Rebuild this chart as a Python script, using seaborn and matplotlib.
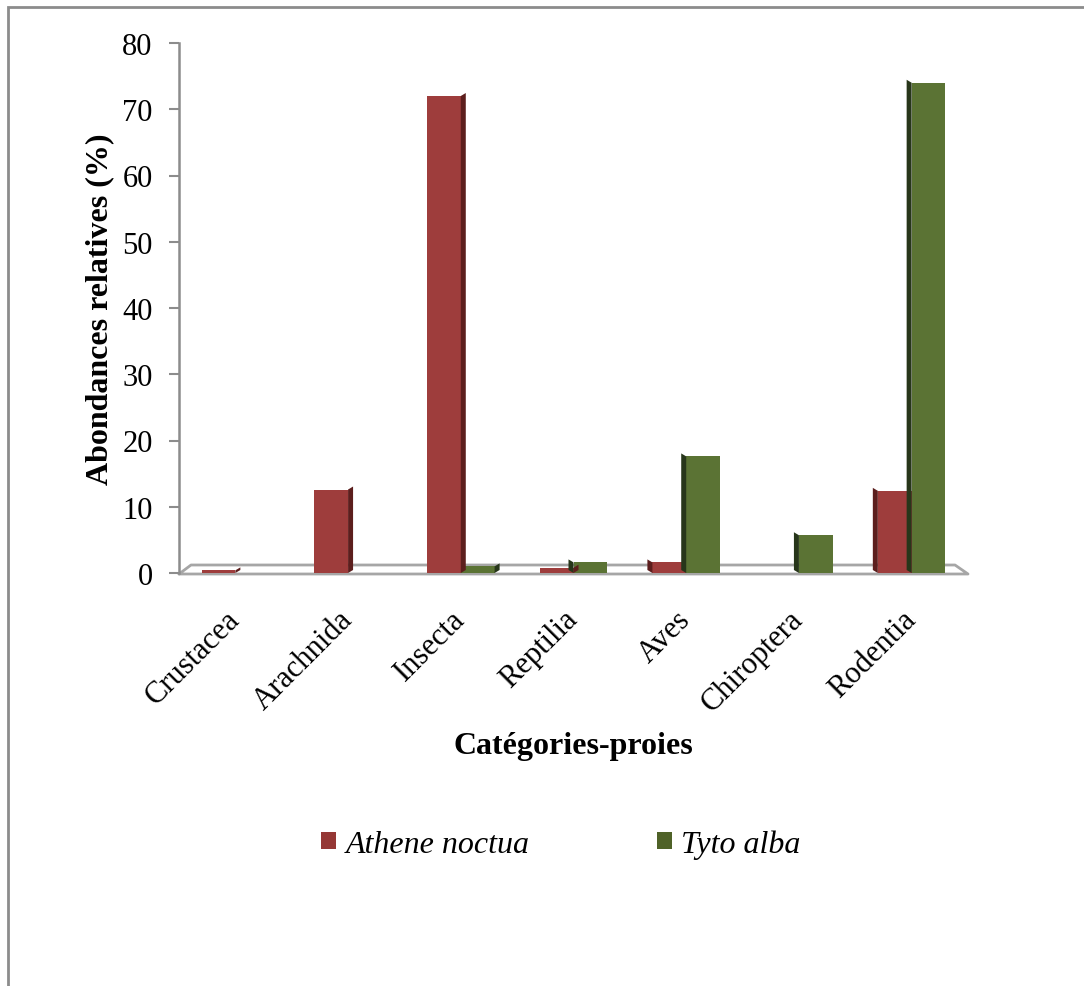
import numpy as np
import pandas as pd
import matplotlib
matplotlib.use("Agg")
import matplotlib.pyplot as plt
from matplotlib.patches import Patch, Rectangle, Polygon
from matplotlib.lines import Line2D
import seaborn as sns

# Relative abundance (%) of prey categories in the diet of two owls
categories = ["Crustacea", "Arachnida", "Insecta", "Reptilia", "Aves", "Chiroptera", "Rodentia"]
athene_noctua = [0.4, 12.6, 72.0, 0.8, 1.6, 0.0, 12.4]
tyto_alba = [0.0, 0.0, 1.0, 1.6, 17.6, 5.7, 74.0]
species = ["Athene noctua", "Tyto alba"]
y_ticks = [0, 10, 20, 30, 40, 50, 60, 70, 80]

front_colors = {"Athene noctua": "#9E3D3C", "Tyto alba": "#5B7334"}
side_colors = {"Athene noctua": "#5C1E1D", "Tyto alba": "#27361A"}
legend_colors = {"Athene noctua": "#953735", "Tyto alba": "#4F6228"}

df = pd.DataFrame({
    "Catégorie": categories * 2,
    "Espèce": [species[0]] * len(categories) + [species[1]] * len(categories),
    "Abondance": athene_noctua + tyto_alba,
})

sns.set_style("white")
plt.rcParams["font.family"] = ["Liberation Serif", "DejaVu Serif"]
plt.rcParams["text.color"] = "black"
plt.rcParams["axes.labelcolor"] = "black"
plt.rcParams["xtick.labelcolor"] = "black"
plt.rcParams["ytick.labelcolor"] = "black"

fig = plt.figure(figsize=(10.84, 9.87), dpi=100)
ax = fig.add_axes([179 / 1084, 1 - 574 / 987, (968 - 179) / 1084, (574 - 44) / 987])

sns.barplot(data=df, x="Catégorie", y="Abondance", hue="Espèce",
            hue_order=species, palette=front_colors, saturation=1,
            width=0.6, gap=0, legend=False, ax=ax, linewidth=0, errorbar=None)

ax.set_xlim(-0.5, len(categories) - 0.5)
ax.set_ylim(0, 80)
ax.set_yticks(y_ticks)
ax.set_yticklabels([str(v) for v in y_ticks], fontsize=22)

# Tick marks sit between categories; labels sit at category centres
ax.set_xticks(np.arange(len(categories) + 1) - 0.5)
ax.set_xticklabels([])
ax.set_xticks(np.arange(len(categories)), minor=True)
ax.set_xticklabels(categories, minor=True, fontsize=22, rotation=45,
                   ha="right", va="center", rotation_mode="anchor")
ax.tick_params(axis="x", which="minor", length=0, pad=30)
ax.tick_params(axis="x", which="major", length=9, width=1.5, color="#8C8C8C", direction="out")
ax.tick_params(axis="y", length=7, width=1.5, color="#8C8C8C", direction="out", pad=12, left=True)

for s in ["top", "right", "bottom"]:
    ax.spines[s].set_visible(False)
ax.spines["left"].set_color("#8C8C8C")
ax.spines["left"].set_linewidth(1.8)

ax.set_ylabel("Abondances relatives (%)", fontsize=23, fontweight="bold", labelpad=6)
ax.set_xlabel("Catégories-proies", fontsize=23, fontweight="bold", labelpad=10)

# Side faces give the columns a little depth
fig.canvas.draw()
to_disp = ax.transData.transform
mid_x = (len(categories) - 1) / 2
depth = 5
for patch in list(ax.patches):
    h = patch.get_height()
    if h <= 0:
        continue
    x0 = patch.get_x()
    x1 = x0 + patch.get_width()
    sp = species[0] if patch.get_facecolor()[0] > 0.45 else species[1]
    (px0, py0), (px1, py1) = to_disp([(x0, 0), (x1, h)])
    cx = (x0 + x1) / 2
    if cx < mid_x:
        pts = [(px1, py0), (px1 + depth, py0 + 3), (px1 + depth, py1 + 3), (px1, py1)]
    else:
        pts = [(px0, py0), (px0 - depth, py0 + 3), (px0 - depth, py1 + 3), (px0, py1)]
    ax.add_patch(Polygon(pts, closed=True, transform=None, facecolor=side_colors[sp],
                         edgecolor="none", zorder=1))

# Floor of the plot area (front edge below, back edge raised)
(fl, fy), (fr, _) = to_disp([(-0.5, 0), (len(categories) - 0.5, 0)])
fy -= 1
floor = [(fl, fy), (fl + 12, fy + 9), (fr - 13, fy + 9), (fr, fy), (fl, fy)]
ax.add_line(Line2D([p[0] for p in floor], [p[1] for p in floor], transform=None,
                   color="#A6A6A6", lw=2.0, zorder=0.5, clip_on=False))

# Legend below the axes
handles = [Patch(facecolor=legend_colors[s], edgecolor="none", label=s) for s in species]
fig.legend(handles=handles, loc="center", bbox_to_anchor=(561 / 1084, 1 - 845 / 987),
           ncol=2, frameon=False, prop={"size": 23, "style": "italic"},
           handlelength=0.45, handleheight=0.45, handletextpad=0.3, columnspacing=4.0)

# Outer frame of the chart area
fig.patches.append(Rectangle((8 / 1084, -0.1), 1.2, 1.1 - 8 / 987, transform=fig.transFigure,
                             fill=False, edgecolor="#8C8C8C", linewidth=2))

fig.savefig("out.png", dpi=100)
